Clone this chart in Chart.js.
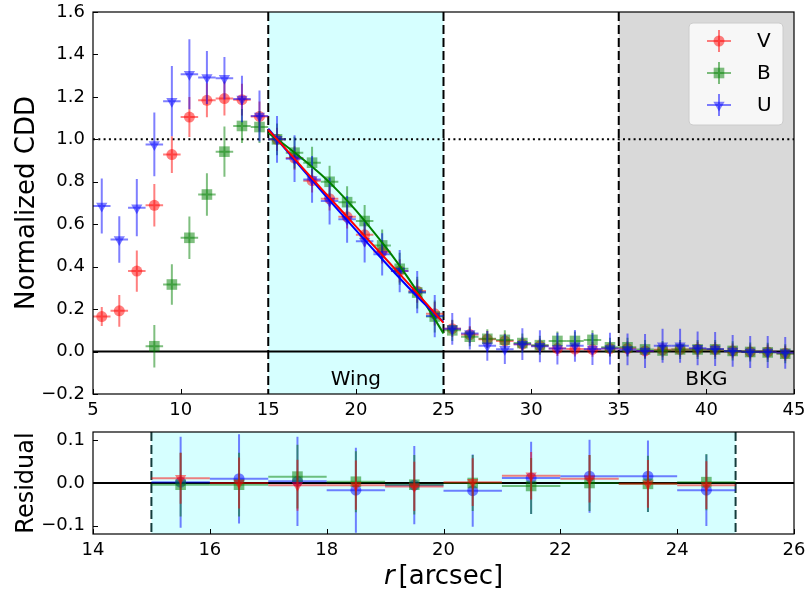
<!DOCTYPE html>
<html>
<head>
<meta charset="utf-8">
<script src="https://cdn.jsdelivr.net/npm/chart.js@4.4.1/dist/chart.umd.min.js"></script>
<style>
  html,body{margin:0;padding:0;background:#fff;}
  #wrap{position:relative;width:806px;height:591px;}
  canvas{position:absolute;left:0;}
  #top{top:0;}
  #bot{top:420px;}
</style>
</head>
<body>
<div id="wrap">
  <canvas id="top" width="806" height="420"></canvas>
  <canvas id="bot" width="806" height="171"></canvas>
</div>
<script>
// radial bins (arcsec), bin half-width 0.5
const rBins=[5.5,6.5,7.5,8.5,9.5,10.5,11.5,12.5,13.5,14.5,15.5,16.5,17.5,18.5,19.5,20.5,21.5,22.5,23.5,24.5,
  25.5,26.5,27.5,28.5,29.5,30.5,31.5,32.5,33.5,34.5,35.5,36.5,37.5,38.5,39.5,40.5,41.5,42.5,43.5,44.5];

const cddV=[0.165,0.192,0.379,0.689,0.928,1.105,1.184,1.192,1.187,1.108,1.00,0.912,0.805,0.72,0.635,0.55,0.47,0.38,0.285,0.178,
  0.108,0.08,0.058,0.05,0.035,0.027,0.014,0.012,0.01,0.014,0.014,0.003,0.008,0.01,0.011,0.01,0.003,-0.002,-0.002,-0.008];
const cddB=[null,null,null,0.025,0.316,0.536,0.74,0.942,1.063,1.058,1.00,0.937,0.89,0.80,0.704,0.615,0.50,0.39,0.278,0.165,
  0.10,0.07,0.06,0.055,0.04,0.03,0.05,0.05,0.055,0.02,0.02,0.01,0.005,0.01,0.01,0.01,0.003,-0.002,-0.004,-0.01];
const cddU=[0.686,0.528,0.678,0.976,1.18,1.307,1.291,1.288,1.19,1.11,1.00,0.909,0.811,0.709,0.623,0.52,0.458,0.379,0.28,0.167,
  0.107,0.085,0.027,0.011,0.035,0.025,0.014,0.027,0.012,0.014,0.01,0.003,0.027,0.027,0.015,0.012,0.003,-0.002,-0.002,-0.006];

const errV=[0.045,0.075,0.097,0.1,0.087,0.094,0.08,0.08,0.075,0.07,0.055,0.055,0.055,0.055,0.055,0.055,0.055,0.055,0.055,0.055,
  0.04,0.04,0.04,0.035,0.035,0.035,0.035,0.035,0.035,0.035,0.035,0.035,0.035,0.035,0.035,0.035,0.035,0.035,0.035,0.035];
const errB=[null,null,null,0.1,0.095,0.1,0.1,0.118,0.08,0.075,0.075,0.075,0.075,0.075,0.075,0.075,0.075,0.075,0.075,0.075,
  0.05,0.045,0.045,0.045,0.045,0.045,0.045,0.045,0.045,0.045,0.045,0.045,0.045,0.045,0.045,0.045,0.045,0.045,0.045,0.045];
const errU=[0.13,0.11,0.135,0.15,0.165,0.165,0.125,0.1,0.11,0.12,0.11,0.11,0.11,0.11,0.11,0.1,0.1,0.1,0.1,0.1,
  0.075,0.075,0.07,0.07,0.075,0.075,0.075,0.075,0.075,0.075,0.075,0.08,0.08,0.08,0.08,0.08,0.075,0.075,0.075,0.075];

// fitted wing profiles
const fitR=[15,16,17,18,19,20,21,22,23,24,25];
const fitV=[1.045,0.955,0.862,0.77,0.68,0.59,0.50,0.41,0.32,0.228,0.135];
const fitU=[1.05,0.952,0.855,0.76,0.665,0.572,0.48,0.39,0.302,0.218,0.14];
const fitB=[1.03,0.97,0.905,0.835,0.755,0.665,0.565,0.46,0.345,0.22,0.085];

// residuals inside the wing
const resR=[15.5,16.5,17.5,18.5,19.5,20.5,21.5,22.5,23.5,24.5];
const resV=[0.011,0.0,-0.005,-0.005,-0.008,0.002,0.017,0.01,-0.002,-0.005];
const resB=[-0.004,-0.004,0.015,0.003,-0.004,0.0,-0.007,0.0,-0.002,0.002];
const resU=[0.002,0.01,0.004,-0.017,-0.005,-0.018,0.012,0.016,0.016,-0.017];
const resErrV=[0.06,0.06,0.06,0.058,0.058,0.056,0.056,0.056,0.056,0.056];
const resErrB=[0.075,0.075,0.075,0.072,0.07,0.066,0.066,0.066,0.066,0.066];
const resErrU=[0.107,0.105,0.105,0.1,0.092,0.085,0.085,0.086,0.084,0.084];

const RED='rgba(255,0,0,0.5)', GREEN='rgba(0,128,0,0.5)', BLUE='rgba(0,0,255,0.5)';
const FONT='"DejaVu Sans", sans-serif';

const pts=(xs,ys)=>xs.map((x,i)=>({x,y:ys[i]})).filter(p=>p.y!==null);
const errs=(ys,es)=>ys.map((y,i)=>es[i]).filter((e,i)=>ys[i]!==null);
const fmt=v=>{const s=(Math.abs(v)<1e-9?0:v).toFixed(1);return s.replace('-','\u2212');};
// fixed axis box, no extra room for overhanging labels
const fixBox=(w,h)=>s=>{
  if(w) s.width=w;
  if(h) s.height=h;
  s.paddingLeft=s.paddingRight=s.paddingTop=s.paddingBottom=0;
};

// error bars drawn just under each dataset's markers
const errorBars={
  id:'errorBars',
  beforeDatasetDraw(chart,args){
    const ds=chart.data.datasets[args.index];
    if(!ds.yErr) return;
    const xs=chart.scales.x, ys=chart.scales.y, ctx=chart.ctx, a=chart.chartArea;
    ctx.save();
    ctx.beginPath(); ctx.rect(a.left,a.top,a.right-a.left,a.bottom-a.top); ctx.clip();
    ctx.strokeStyle=ds.backgroundColor; ctx.lineWidth=2;
    ds.data.forEach((p,i)=>{
      const px=xs.getPixelForValue(p.x), py=ys.getPixelForValue(p.y);
      ctx.beginPath();
      ctx.moveTo(xs.getPixelForValue(p.x-0.5),py); ctx.lineTo(xs.getPixelForValue(p.x+0.5),py);
      ctx.moveTo(px,ys.getPixelForValue(p.y-ds.yErr[i])); ctx.lineTo(px,ys.getPixelForValue(p.y+ds.yErr[i]));
      ctx.stroke();
    });
    ctx.restore();
  }
};

// shaded regions and reference lines
const regions={
  id:'regions',
  beforeDatasetsDraw(chart,args,opts){
    const xs=chart.scales.x, ys=chart.scales.y, ctx=chart.ctx, a=chart.chartArea;
    ctx.save();
    (opts.bands||[]).forEach(b=>{
      ctx.fillStyle=b.color;
      const x0=xs.getPixelForValue(b.from), x1=xs.getPixelForValue(b.to);
      ctx.fillRect(x0,a.top,x1-x0,a.bottom-a.top);
    });
    ctx.strokeStyle='#000';
    ctx.lineWidth=2;
    if(opts.dotted!==undefined){
      ctx.setLineDash([2,3.3]);
      const y=ys.getPixelForValue(opts.dotted);
      ctx.beginPath(); ctx.moveTo(a.left,y); ctx.lineTo(a.right,y); ctx.stroke();
    }
    ctx.setLineDash([]);
    const y0=ys.getPixelForValue(0);
    ctx.beginPath(); ctx.moveTo(a.left,y0); ctx.lineTo(a.right,y0); ctx.stroke();
    ctx.setLineDash([9,4]);
    ctx.strokeStyle=opts.dashColor||'#000';
    (opts.dashes||[]).forEach(v=>{
      const x=xs.getPixelForValue(v);
      ctx.beginPath(); ctx.moveTo(x,a.top); ctx.lineTo(x,a.bottom); ctx.stroke();
    });
    ctx.setLineDash([]);
    ctx.fillStyle='#000'; ctx.font='20px '+FONT; ctx.textAlign='center'; ctx.textBaseline='alphabetic';
    (opts.labels||[]).forEach(l=>ctx.fillText(l.text,xs.getPixelForValue(l.x),ys.getPixelForValue(l.y)));
    ctx.restore();
  }
};

// frame, inward ticks, legend and axis title
const frame={
  id:'frame',
  afterDraw(chart,args,opts){
    const xs=chart.scales.x, ys=chart.scales.y, ctx=chart.ctx, a=chart.chartArea;
    ctx.save();
    ctx.strokeStyle='#000'; ctx.lineWidth=1.2;
    ctx.strokeRect(a.left,a.top,a.right-a.left,a.bottom-a.top);
    ctx.beginPath();
    xs.ticks.forEach(t=>{const x=Math.round(xs.getPixelForValue(t.value))+0.5;ctx.moveTo(x,a.bottom);ctx.lineTo(x,a.bottom-5);});
    ys.ticks.forEach(t=>{const y=Math.round(ys.getPixelForValue(t.value))+0.5;ctx.moveTo(a.left,y);ctx.lineTo(a.left+5,y);});
    ctx.lineWidth=1; ctx.stroke();
    if(opts.legend){
      const L=opts.legend;
      ctx.beginPath();
      ctx.roundRect(L.x,L.y,L.w,L.h,4);
      ctx.fillStyle='rgba(255,255,255,0.8)'; ctx.fill();
      ctx.strokeStyle='#ccc'; ctx.lineWidth=1; ctx.stroke();
      L.items.forEach((it,i)=>{
        const cy=L.y+18+i*32, cx=L.x+30;
        ctx.strokeStyle=it.color; ctx.lineWidth=2;
        ctx.beginPath(); ctx.moveTo(cx-12,cy); ctx.lineTo(cx+12,cy); ctx.moveTo(cx,cy-11); ctx.lineTo(cx,cy+11); ctx.stroke();
        ctx.fillStyle=it.color;
        Chart.helpers.drawPoint(ctx,{pointStyle:it.style,radius:it.r,rotation:it.rot||0,borderWidth:0},cx,cy);
        ctx.fillStyle='#000'; ctx.font='20px '+FONT; ctx.textAlign='left'; ctx.textBaseline='middle';
        ctx.fillText(it.label,L.x+68,cy+1);
      });
    }
    if(opts.xTitle){
      ctx.fillStyle='#000'; ctx.textBaseline='alphabetic'; ctx.textAlign='left';
      const ip='italic 26px '+FONT, rp='26px '+FONT;
      ctx.font=ip; const w1=ctx.measureText('r').width+4;
      ctx.font=rp; const w2=ctx.measureText('[arcsec]').width;
      const x0=(a.left+a.right)/2-(w1+w2)/2;
      ctx.font=ip; ctx.fillText('r',x0,opts.xTitle);
      ctx.font=rp; ctx.fillText('[arcsec]',x0+w1,opts.xTitle);
    }
    ctx.restore();
  }
};

function pointSet(label,xs,ys,es,color,style,r,rot,order){
  return {type:'scatter',label,data:pts(xs,ys),yErr:errs(ys,es),backgroundColor:color,borderWidth:0,
    pointStyle:style,pointRadius:r,pointHoverRadius:r,pointRotation:rot,order};
}
function fitSet(label,ys,color,order){
  return {type:'line',label,data:pts(fitR,ys),borderColor:color,borderWidth:2,pointRadius:0,
    fill:false,tension:0,cubicInterpolationMode:'monotone',order};
}
const tickFont={family:FONT,size:18};

new Chart(document.getElementById('top'),{
  type:'scatter',
  data:{datasets:[
    fitSet('V fit',fitV,'#ff0000',0),
    fitSet('U fit',fitU,'#0000ff',1),
    fitSet('B fit',fitB,'#008000',2),
    pointSet('U',rBins,cddU,errU,BLUE,'triangle',6.5,180,3),
    pointSet('B',rBins,cddB,errB,GREEN,'rect',7.5,0,4),
    pointSet('V',rBins,cddV,errV,RED,'circle',5.5,0,5)
  ]},
  options:{
    responsive:false,animation:false,
    layout:{padding:{top:12,right:12,left:0,bottom:0}},
    plugins:{
      legend:{display:false},tooltip:{enabled:false},
      regions:{
        bands:[{from:15,to:25,color:'rgba(0,255,255,0.16)'},{from:35,to:45,color:'rgba(128,128,128,0.3)'}],
        dotted:1.0,dashes:[15,25,35],
        labels:[{text:'Wing',x:20,y:-0.158},{text:'BKG',x:40,y:-0.158}]
      },
      frame:{legend:{x:689,y:23,w:94,h:102,items:[
        {label:'V',color:RED,style:'circle',r:5.5},
        {label:'B',color:GREEN,style:'rect',r:7.5},
        {label:'U',color:BLUE,style:'triangle',r:6.5,rot:180}
      ]}}
    },
    scales:{
      x:{type:'linear',min:5,max:45,grid:{display:false,drawTicks:false},border:{display:false},
        ticks:{stepSize:5,font:tickFont,color:'#000',padding:6,maxRotation:0,callback:v=>String(v)},
        afterFit:fixBox(0,26)},
      y:{type:'linear',min:-0.2,max:1.6,grid:{display:false,drawTicks:false},border:{display:false},
        ticks:{stepSize:0.2,font:tickFont,color:'#000',padding:8,callback:fmt},
        title:{display:true,text:'Normalized CDD',font:{family:FONT,size:26},color:'#000',padding:{top:12,bottom:0}},
        afterFit:fixBox(93,0)}
    }
  },
  plugins:[regions,errorBars,frame]
});

// residuals: V drawn last, on top
new Chart(document.getElementById('bot'),{
  type:'scatter',
  data:{datasets:[
    pointSet('V',resR,resV,resErrV,RED,'triangle',6.5,180,0),
    pointSet('B',resR,resB,resErrB,GREEN,'rect',7.5,0,1),
    pointSet('U',resR,resU,resErrU,BLUE,'circle',5.5,0,2)
  ]},
  options:{
    responsive:false,animation:false,
    layout:{padding:{top:12,right:12,left:0,bottom:0}},
    plugins:{
      legend:{display:false},tooltip:{enabled:false},
      regions:{bands:[{from:15,to:25,color:'rgba(0,255,255,0.16)'}],dashes:[15,25],dashColor:'#143c3c'},
      frame:{xTitle:164}
    },
    scales:{
      x:{type:'linear',min:14,max:26,grid:{display:false,drawTicks:false},border:{display:false},
        ticks:{stepSize:2,font:tickFont,color:'#000',padding:6,maxRotation:0,callback:v=>String(v)},
        afterFit:fixBox(0,57)},
      y:{type:'linear',min:-0.12,max:0.12,grid:{display:false,drawTicks:false},border:{display:false},
        afterBuildTicks(s){s.ticks=[{value:-0.1},{value:0},{value:0.1}];},
        ticks:{font:tickFont,color:'#000',padding:8,callback:fmt},
        title:{display:true,text:'Residual',font:{family:FONT,size:24},color:'#000',padding:{top:12,bottom:0}},
        afterFit:fixBox(93,0)}
    }
  },
  plugins:[regions,errorBars,frame]
});
</script>
</body>
</html>
